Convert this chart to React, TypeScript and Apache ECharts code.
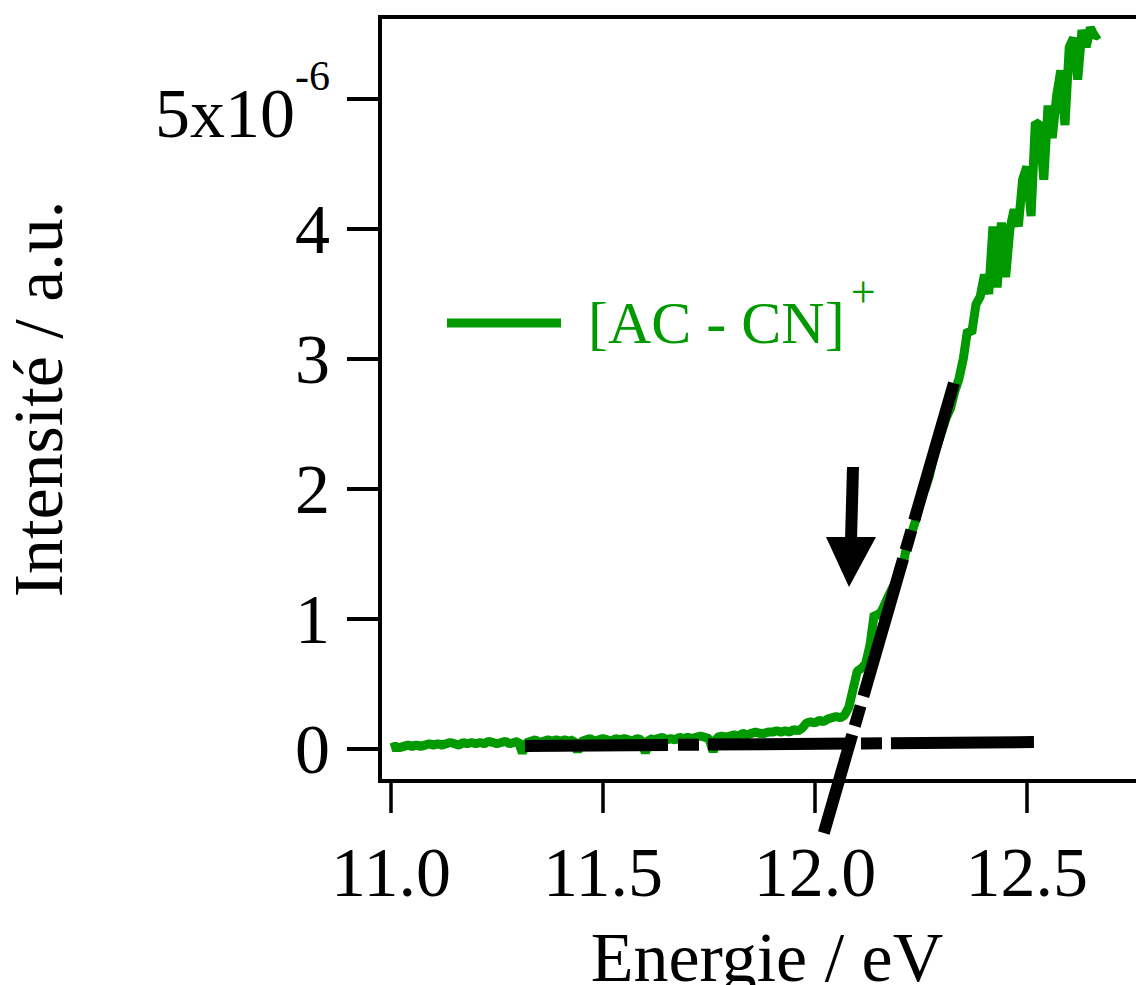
import React, { useEffect, useRef } from "react";
import * as echarts from "echarts";

const FONT = '"Liberation Serif", "Times New Roman", serif';
const GREEN = "#009900";

// Energy sampling grid (eV): start and step of the recorded spectrum
const energyStart = 11.0;
const energyStep = 0.01;

// Intensity (units of 1e-6 a.u.), one value per energy sample
const intensity = [
  0.01, 0.02, 0.01, 0.02, 0.03, 0.02, 0.03, 0.02, 0.03, 0.04,
  0.03, 0.04, 0.03, 0.04, 0.05, 0.04, 0.03, 0.05, 0.04, 0.05,
  0.04, 0.05, 0.04, 0.06, 0.05, 0.04, 0.05, 0.06, 0.04, 0.05,
  0.06, -0.03, 0.05, 0.06, 0.07, 0.05, 0.06, 0.07, 0.06, 0.07,
  0.06, 0.07, 0.06, 0.07, -0.02, 0.06, 0.07, 0.08, 0.06, 0.07,
  0.08, 0.07, 0.06, 0.08, 0.07, 0.08, 0.07, 0.06, 0.08, 0.07,
  -0.03, 0.08, 0.07, 0.08, 0.09, 0.07, 0.08, 0.07, 0.09, 0.08,
  0.09, 0.08, 0.09, 0.10, 0.09, 0.08, -0.02, 0.09, 0.10, 0.09,
  0.10, 0.11, 0.10, 0.12, 0.11, 0.12, 0.13, 0.12, 0.12, 0.13,
  0.13, 0.14, 0.13, 0.14, 0.13, 0.15, 0.14, 0.16, 0.20, 0.21,
  0.20, 0.22, 0.21, 0.23, 0.24, 0.25, 0.24, 0.26, 0.32, 0.46,
  0.60, 0.62, 0.66, 0.80, 1.04, 1.02, 1.08, 1.15, 1.22, 1.28,
  1.40, 1.45, 1.62, 1.68, 1.78, 1.95, 2.00, 2.10, 2.25, 2.35,
  2.45, 2.55, 2.62, 2.75, 2.85, 3.00, 3.22, 3.20, 3.42, 3.48,
  3.65, 3.50, 4.02, 3.55, 4.05, 3.63, 4.00, 4.15, 4.02, 4.38,
  4.48, 4.10, 4.82, 4.80, 4.38, 4.95, 4.70, 5.02, 5.22, 4.80,
  5.40, 5.47, 5.15, 5.53, 5.40, 5.55, 5.48, 5.50,
];

// Linear fits (baseline and onset slope): [energy, intensity]
const baselineFit = [
  [11.316, 0.023],
  [12.521, 0.054],
];
const slopeFit = [
  [12.328, 2.815],
  [12.021, -0.646],
];

const xTicks = [11.0, 11.5, 12.0, 12.5];
const yTicks = [0, 1, 2, 3, 4, 5];
const seriesName = "[AC - CN]+";

export default function App() {
  const ref = useRef<HTMLDivElement>(null);

  useEffect(() => {
    if (!ref.current) return;
    const chart = echarts.init(ref.current, null, { renderer: "svg" });
    const spectrum = intensity.map((v, i) => [
      +(energyStart + i * energyStep).toFixed(2),
      v,
    ]);
    const dash = [143, 10, 21, 9];

    chart.setOption({
      animation: false,
      backgroundColor: "#ffffff",
      grid: {
        left: 380,
        top: 17,
        right: 0,
        bottom: 204,
        show: true,
        borderColor: "#000",
        borderWidth: 4,
        containLabel: false,
        outerBoundsMode: "none",
      },
      legend: {
        left: 447,
        top: 270,
        padding: 0,
        icon: "rect",
        itemWidth: 114,
        itemHeight: 9,
        data: [seriesName],
        formatter: () => "{a|[AC - CN]}{s|+}",
        textStyle: {
          color: GREEN,
          fontFamily: FONT,
          rich: {
            a: {
              fontFamily: FONT,
              fontSize: 60,
              color: GREEN,
              padding: [23, 0, 23, 22],
            },
            s: {
              fontFamily: FONT,
              fontSize: 44,
              color: GREEN,
              verticalAlign: "top",
              padding: [0, 0, 0, 6],
            },
          },
        },
      },
      xAxis: {
        type: "value",
        min: 10.974,
        max: 12.8,
        name: "Energie / eV",
        nameLocation: "middle",
        nameGap: 141,
        nameTextStyle: { fontFamily: FONT, fontSize: 70, color: "#000" },
        axisLine: {
          show: true,
          onZero: false,
          lineStyle: { color: "#000", width: 4 },
        },
        axisTick: {
          show: true,
          inside: false,
          length: 32,
          customValues: xTicks,
          lineStyle: { color: "#000", width: 3.5 },
        },
        axisLabel: {
          customValues: xTicks,
          margin: 56,
          fontFamily: FONT,
          fontSize: 70,
          color: "#000",
          formatter: (v: number) => v.toFixed(1),
        },
        splitLine: { show: false },
      },
      yAxis: {
        type: "value",
        min: -0.246,
        max: 5.631,
        name: "Intensité / a.u.",
        nameLocation: "middle",
        nameGap: 307,
        nameTextStyle: { fontFamily: FONT, fontSize: 70, color: "#000" },
        axisLine: {
          show: true,
          onZero: false,
          lineStyle: { color: "#000", width: 4 },
        },
        axisTick: {
          show: true,
          inside: false,
          length: 33,
          customValues: yTicks,
          lineStyle: { color: "#000", width: 4 },
        },
        axisLabel: {
          customValues: yTicks,
          margin: 50,
          fontFamily: FONT,
          fontSize: 70,
          color: "#000",
          formatter: (v: number) =>
            v === 5 ? "{b|5x10}{s|-6}" : String(Math.round(v)),
          rich: {
            b: {
              fontFamily: FONT,
              fontSize: 70,
              color: "#000",
              padding: [28, 0, 0, 0],
            },
            s: {
              fontFamily: FONT,
              fontSize: 42,
              color: "#000",
              verticalAlign: "top",
              padding: [5, 0, 0, 0],
            },
          },
        },
        splitLine: { show: false },
      },
      series: [
        {
          name: seriesName,
          type: "line",
          data: spectrum,
          showSymbol: false,
          lineStyle: { color: GREEN, width: 9, join: "bevel", cap: "butt" },
          itemStyle: { color: GREEN },
          z: 2,
        },
        {
          name: "baseline",
          type: "line",
          data: baselineFit,
          showSymbol: false,
          lineStyle: { color: "#000", width: 12, type: dash, cap: "butt" },
          z: 3,
        },
        {
          name: "slope",
          type: "line",
          data: slopeFit,
          showSymbol: false,
          clip: false,
          lineStyle: { color: "#000", width: 12, type: dash, cap: "butt" },
          z: 4,
        },
      ],
      graphic: [
        {
          type: "polygon",
          shape: {
            points: [
              [847, 467],
              [859, 467],
              [857, 540],
              [845, 540],
            ],
          },
          style: { fill: "#000" },
          z: 10,
        },
        {
          type: "polygon",
          shape: {
            points: [
              [826, 537],
              [876, 537],
              [849, 587],
            ],
          },
          style: { fill: "#000" },
          z: 10,
        },
      ],
    });

    return () => chart.dispose();
  }, []);

  return (
    <div
      style={{
        position: "fixed",
        left: 0,
        top: 0,
        width: 1136,
        height: 985,
        overflow: "hidden",
        background: "#fff",
      }}
    >
      <div ref={ref} style={{ width: 1154, height: 985 }} />
    </div>
  );
}
